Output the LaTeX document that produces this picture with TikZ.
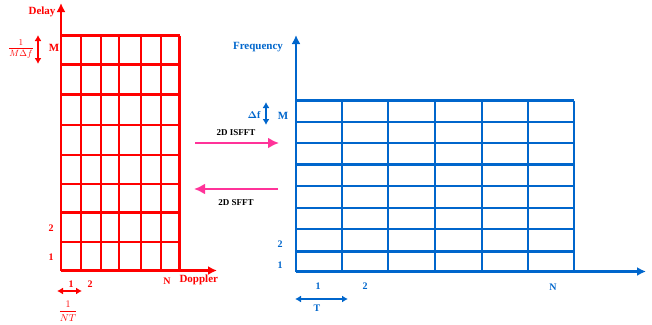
\documentclass[tikz,border=0pt]{standalone}
\usepackage{amsmath}
\usepackage{fontspec}
\setmainfont{Liberation Serif}
\usetikzlibrary{arrows.meta}

\definecolor{ddred}{RGB}{255,0,0}
\definecolor{tfblue}{RGB}{0,102,204}
\definecolor{xfpink}{RGB}{255,51,153}

\tikzset{
    gridline/.style={line width=2.3pt},
    axis/.style={line width=2.3pt,-{Latex[length=9pt,width=9pt]}},
    span/.style={line width=2pt,{Latex[length=6pt,width=7pt]}-{Latex[length=6pt,width=7pt]}},
    lbl/.style={font=\bfseries\fontsize{11}{12}\selectfont},
    num/.style={font=\bfseries\fontsize{10}{11}\selectfont},
    frac/.style={font=\fontsize{9}{10}\selectfont,inner sep=0pt},
    xfarrow/.style={xfpink,line width=2.8pt,-{Latex[length=11pt,width=11pt]}}
}

\begin{document}
\begin{tikzpicture}[x=1pt,y=-1pt]
    \useasboundingbox (0,0) rectangle (652,324);

    % delay-Doppler grid
    \begin{scope}[ddred]
    \foreach \x in {61,81,101,119,141,161,179.5}
        \draw[gridline] (\x,35.5) -- (\x,270.5);
    \foreach \y in {35.5,64.5,94.5,125,155,184,212.5,242}
        \draw[gridline] (61,\y) -- (179.5,\y);
    \coordinate (ddorigin) at (61,270.5);
    \coordinate (ddtop) at (61,3);
    \coordinate (ddright) at (217,270.5);
    \draw[axis] (ddorigin) -- (ddtop);
    \draw[axis] (ddorigin) -- (ddright);
    \node[lbl,anchor=east] (delay) at (59,12) {Delay};
    \node[lbl,anchor=west] (doppler) at (176,280) {Doppler};
    \node[num] (ddN) at (167,281) {N};
    \node[num] (ddcol1) at (71,284) {1};
    \node[num] (ddcol2) at (90,284) {2};
    \node[num] (ddrow1) at (51,257) {1};
    \node[num] (ddrow2) at (51,228) {2};
    \node[lbl] (ddM) at (54,48) {M};
    \coordinate (mtop) at (38,35);
    \coordinate (mbot) at (38,64);
    \draw[span] (mtop) -- (mbot);
    \node[frac] (mdf) at (21,49) {$\dfrac{1}{M\Delta f}$};
    \coordinate (nleft) at (57,291);
    \coordinate (nright) at (82,291);
    \draw[span] (nleft) -- (nright);
    \node[frac,font=\fontsize{10}{11}\selectfont] (nt) at (68,311) {$\dfrac{1}{NT}$};
    \end{scope}

    % transform arrows
    \coordinate (isfftL) at (195,143);
    \coordinate (isfftR) at (279,143);
    \coordinate (sfftL) at (194,189);
    \coordinate (sfftR) at (278,189);
    \draw[xfarrow] (isfftL) -- (isfftR);
    \draw[xfarrow] (sfftR) -- (sfftL);
    \node[font=\bfseries\fontsize{9}{10}\selectfont] (isfft) at (236,133) {2D ISFFT};
    \node[font=\bfseries\fontsize{9}{10}\selectfont] (sfft) at (236,203) {2D SFFT};

    % time-frequency grid
    \begin{scope}[tfblue]
    \foreach \x in {296,342,388,435,482,528,574}
        \draw[gridline] (\x,100.5) -- (\x,271.5);
    \foreach \y in {100.5,122,143,164.5,186,208,229,251.5}
        \draw[gridline] (296,\y) -- (574,\y);
    \coordinate (tforigin) at (296,271.5);
    \coordinate (tftop) at (296,35);
    \coordinate (tfright) at (646,271.5);
    \draw[axis] (tforigin) -- (tftop);
    \draw[axis] (tforigin) -- (tfright);
    \node[lbl] (freq) at (258,47) {Frequency};
    \node[num] (tfN) at (553,287) {N};
    \node[num] (tfcol1) at (318,286) {1};
    \node[num] (tfcol2) at (365,286) {2};
    \node[num] (tfrow1) at (280,265) {1};
    \node[num] (tfrow2) at (280,244) {2};
    \node[lbl] (tfM) at (283,116) {M};
    \node[num] (df) at (254,115) {$\boldsymbol{\Delta}$f};
    \coordinate (dftop) at (266,102);
    \coordinate (dfbot) at (266,125);
    \draw[span] (dftop) -- (dfbot);
    \coordinate (tleft) at (295,299);
    \coordinate (tright) at (348,299);
    \draw[span] (tleft) -- (tright);
    \node[num] (T) at (317,308) {T};
    \end{scope}
\end{tikzpicture}
\end{document}
